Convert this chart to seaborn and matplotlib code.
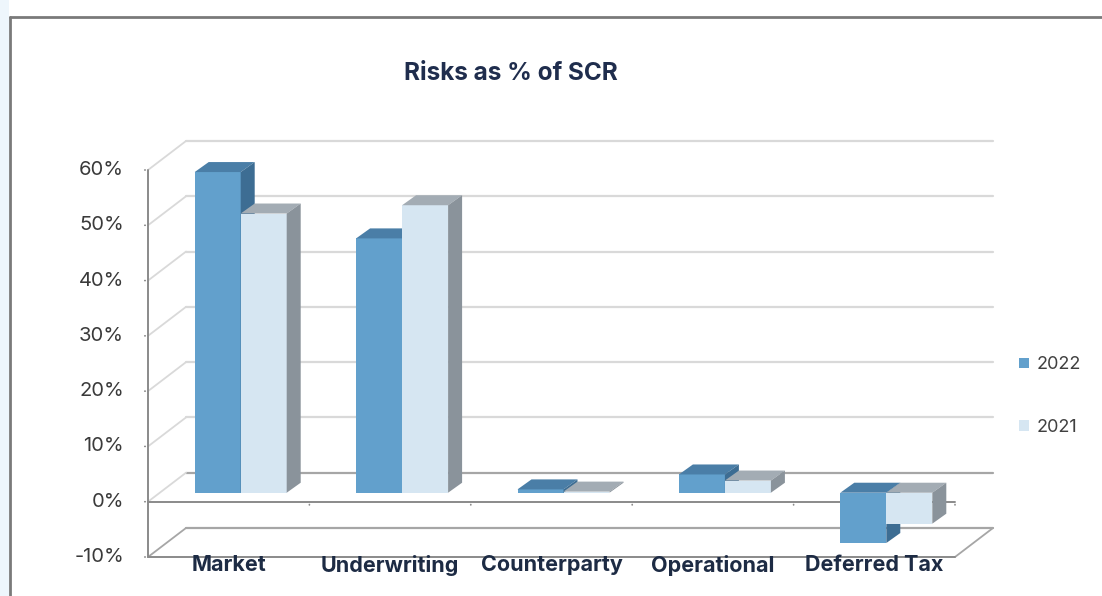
import numpy as np
import pandas as pd
import matplotlib
matplotlib.use("Agg")
import matplotlib.pyplot as plt
import seaborn as sns
from matplotlib.transforms import ScaledTranslation
from matplotlib.patches import Polygon, Patch, Rectangle
from matplotlib.lines import Line2D

# ---------------- data ----------------
categories = ["Market", "Underwriting", "Counterparty", "Operational", "Deferred Tax"]
years = ["2022", "2021"]
values_2022 = [58.0, 46.0, 0.6, 3.3, -9.1]
values_2021 = [50.5, 52.0, 0.2, 2.2, -5.6]
y_ticks = [-10, 0, 10, 20, 30, 40, 50, 60]
y_tick_labels = ["-10%", "0%", "10%", "20%", "30%", "40%", "50%", "60%"]
title = "Risks as % of SCR"

df = pd.DataFrame({
    "category": categories * 2,
    "year": [years[0]] * len(categories) + [years[1]] * len(categories),
    "value": values_2022 + values_2021,
})

# ---------------- style ----------------
front_cols = {"2022": "#62a0cc", "2021": "#d6e6f2"}
top_cols = {"2022": "#4a7ea7", "2021": "#a3acb4"}
side_cols = {"2022": "#3d6d93", "2021": "#8a939b"}
grid_col = "#d9d9d9"
axis_col = "#8a8a8a"

sns.set_theme(style="white")
plt.rcParams["font.family"] = ["Inter", "DejaVu Sans"]

W, H, DPI = 1102, 596, 100
fig = plt.figure(figsize=(W / DPI, H / DPI), dpi=DPI)
fig.patch.set_facecolor("white")
ax = fig.add_axes([0, 0, 1, 1])

sns.barplot(data=df, x="category", y="value", hue="year", order=categories,
            hue_order=years, palette=[front_cols[y] for y in years],
            width=0.57, saturation=1, errorbar=None, linewidth=0,
            legend=False, ax=ax)

# pixel <-> data mapping (front plane)
px_cat = (955 - 148) / 5.0
px_pct = (557 - 170) / 70.0
ax.set_xlim(-0.5 - 148 / px_cat, -0.5 + (W - 148) / px_cat)
ax.set_ylim(-10 - (H - 557) / px_pct, 60 + 170 / px_pct)
ax.set_axis_off()

bar_off = ax.transData + ScaledTranslation(12 / DPI, 9 / DPI, fig.dpi_scale_trans)
wall_off = ax.transData + ScaledTranslation(38 / DPI, 29 / DPI, fig.dpi_scale_trans)
ddx, ddy = 14 / px_cat, 10 / px_pct

x_left, x_right = -0.5, len(categories) - 0.5

# back wall gridlines
for t in y_ticks:
    col = grid_col if t > 0 else "#a6a6a6"
    ax.plot([x_left, x_right], [t, t], color=col, lw=1.6, transform=wall_off, zorder=1)
    # diagonal from front axis to back wall
    ax.add_line(Line2D([x_left, x_left + 38 / px_cat], [t, t + 29 / px_pct],
                       color=grid_col if t > -10 else "#a6a6a6", lw=1.3,
                       transform=ax.transData, zorder=1))
# right floor diagonal
ax.add_line(Line2D([x_right, x_right + 38 / px_cat], [-10, -10 + 29 / px_pct],
                   color="#a6a6a6", lw=1.3, transform=ax.transData, zorder=1))

# front axis lines
ax.plot([x_left, x_left], [-10, 60], color=axis_col, lw=1.4, zorder=2)
ax.plot([x_left, x_right], [0, 0], color=axis_col, lw=1.4, zorder=2)
ax.plot([x_left, x_right], [-10, -10], color=axis_col, lw=1.4, zorder=2)
for t, lbl in zip(y_ticks, y_tick_labels):
    ax.annotate("", xy=(x_left, t), xytext=(-6, 0), textcoords="offset pixels",
                arrowprops=dict(arrowstyle="-", color=axis_col, lw=1.2))
    ax.annotate(lbl, xy=(x_left, t), xytext=(-24, 0), textcoords="offset pixels",
                ha="right", va="center", fontsize=14.5, color="#3a3a3a")
for b in np.arange(0.5, len(categories), 1.0):
    ax.annotate("", xy=(b, 0), xytext=(0, -6), textcoords="offset pixels",
                arrowprops=dict(arrowstyle="-", color=axis_col, lw=1.2))

# bars: shift into the depth plane and add 3D faces
for i, (year, cont) in enumerate(zip(years, ax.containers)):
    z = 3 + i
    for p in cont.patches:
        p.set_transform(bar_off)
        p.set_zorder(z)
        x, w = p.get_x(), p.get_width()
        y0, h = p.get_y(), p.get_height()
        top, bot = max(y0, y0 + h), min(y0, y0 + h)
        top_face = Polygon([(x, top), (x + w, top), (x + w + ddx, top + ddy), (x + ddx, top + ddy)],
                           closed=True, facecolor=top_cols[year], edgecolor="none",
                           transform=bar_off, zorder=z + 0.5)
        side_face = Polygon([(x + w, bot), (x + w, top), (x + w + ddx, top + ddy), (x + w + ddx, bot + ddy)],
                            closed=True, facecolor=side_cols[year], edgecolor="none",
                            transform=bar_off, zorder=z + 0.5)
        ax.add_patch(top_face)
        ax.add_patch(side_face)

# category labels
for i, cat in enumerate(categories):
    ax.annotate(cat, xy=(i, -10), xytext=(0, -8), textcoords="offset pixels",
                ha="center", va="center", fontsize=15.5, fontweight="bold",
                color="#1d2b44", zorder=6)

# title
fig.text(511 / W, 1 - 73 / H, title, ha="center", va="center", fontsize=17.5,
         fontweight="bold", color="#1f2d4d")

# legend
handles = [Patch(facecolor=front_cols[y], edgecolor="none") for y in years]
fig.legend(handles, years, loc="center left", bbox_to_anchor=(1003 / W, 1 - 396 / H),
           frameon=False, handlelength=0.55, handleheight=0.55, handletextpad=0.4,
           labelspacing=2.5, fontsize=13, labelcolor="#404040")

# outer frame
fig.add_artist(Rectangle((0, 0), 9 / W, 1, transform=fig.transFigure,
                         facecolor="#eef6fc", edgecolor="none", zorder=0))
fig.add_artist(Line2D([10 / W, 10 / W], [0, 1 - 17 / H], transform=fig.transFigure,
                      color="#7a7a7a", lw=2))
fig.add_artist(Line2D([10 / W, 1], [1 - 17 / H, 1 - 17 / H], transform=fig.transFigure,
                      color="#7a7a7a", lw=2))

fig.savefig("out.png", dpi=DPI, facecolor="white")
